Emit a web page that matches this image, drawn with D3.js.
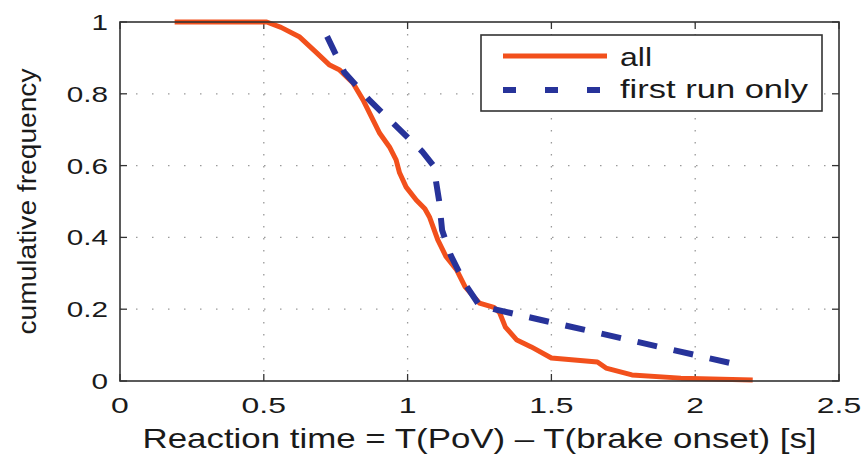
<!DOCTYPE html>
<html>
<head>
<meta charset="utf-8">
<script src="https://cdn.jsdelivr.net/npm/d3@7"></script>
<style>
  body { margin: 0; background: #fff; }
  text { font-family: "Liberation Sans", Arial, sans-serif; fill: #1a1a1a; }
</style>
</head>
<body>
<script>
// values
const allTime = [0.19, 0.51, 0.56, 0.625, 0.684, 0.729, 0.764, 0.81, 0.845, 0.88, 0.903, 0.937, 0.96, 0.972, 0.995, 1.03, 1.06, 1.076, 1.105, 1.134, 1.17, 1.2, 1.25, 1.3, 1.32, 1.34, 1.38, 1.43, 1.5, 1.66, 1.69, 1.78, 1.95, 2.2]
const allFreq = [1.0, 1.0, 0.985, 0.958, 0.914, 0.88, 0.866, 0.83, 0.783, 0.727, 0.69, 0.652, 0.616, 0.58, 0.54, 0.504, 0.48, 0.457, 0.393, 0.346, 0.31, 0.262, 0.217, 0.205, 0.19, 0.15, 0.114, 0.095, 0.064, 0.053, 0.036, 0.017, 0.008, 0.003]
const firstTime = [0.72, 0.78, 0.87, 0.96, 1.05, 1.09, 1.11, 1.12, 1.15, 1.2, 1.25, 1.3, 2.15]
const firstFreq = [0.96, 0.86, 0.78, 0.71, 0.64, 0.6, 0.5, 0.42, 0.35, 0.27, 0.21, 0.2, 0.045]
const xTicks = [0, 0.5, 1, 1.5, 2, 2.5]
const yTicks = [0, 0.2, 0.4, 0.6, 0.8, 1]
const seriesNames = ['all', 'first run only']

const width = 863
const height = 454
const margin = { left: 120, right: 24, top: 22, bottom: 73 }

const svg = d3.select('body').append('svg')
    .attr('width', width)
    .attr('height', height)

const x = d3.scaleLinear().domain([0, 2.5]).range([margin.left, width - margin.right])
const y = d3.scaleLinear().domain([0, 1]).range([height - margin.bottom, margin.top])

// picture is stretched sideways, so widen glyphs
function stretch(sel, k) {
    sel.each(function () {
        const w = this.getComputedTextLength()
        d3.select(this).attr('textLength', w * k).attr('lengthAdjust', 'spacingAndGlyphs')
    })
}

// grid
const grid = svg.append('g').attr('stroke', '#9a9a9a').attr('stroke-width', 1.3)
grid.selectAll('.gx')
    .data(xTicks.slice(1, -1))
    .enter()
    .append('line')
    .attr('x1', (d) => x(d)).attr('x2', (d) => x(d))
    .attr('y1', y(1)).attr('y2', y(0))
    .attr('stroke-dasharray', '1.5,10.5')
grid.selectAll('.gy')
    .data(yTicks.slice(1, -1))
    .enter()
    .append('line')
    .attr('x1', x(0)).attr('x2', x(2.5))
    .attr('y1', (d) => y(d)).attr('y2', (d) => y(d))
    .attr('stroke-dasharray', '1.5,14.5')

// ticks on all four sides, pointing inward
const tk = svg.append('g').attr('stroke', '#333').attr('stroke-width', 1.3)
xTicks.forEach((d) => {
    tk.append('line').attr('x1', x(d)).attr('x2', x(d)).attr('y1', y(0)).attr('y2', y(0) - 7)
    tk.append('line').attr('x1', x(d)).attr('x2', x(d)).attr('y1', y(1)).attr('y2', y(1) + 7)
})
yTicks.forEach((d) => {
    tk.append('line').attr('x1', x(0)).attr('x2', x(0) + 7).attr('y1', y(d)).attr('y2', y(d))
    tk.append('line').attr('x1', x(2.5)).attr('x2', x(2.5) - 7).attr('y1', y(d)).attr('y2', y(d))
})

// tick labels
const xl = svg.append('g').selectAll('text')
    .data(xTicks)
    .enter()
    .append('text')
    .attr('x', (d) => x(d))
    .attr('y', y(0) + 32)
    .attr('text-anchor', 'middle')
    .attr('font-size', 22)
    .text((d) => d3.format('')(d))
stretch(xl, 1.45)

const yl = svg.append('g').selectAll('text')
    .data(yTicks)
    .enter()
    .append('text')
    .attr('x', x(0) - 12)
    .attr('y', (d) => y(d) + 8)
    .attr('text-anchor', 'end')
    .attr('font-size', 22)
    .text((d) => d3.format('')(d))
stretch(yl, 1.35)

// axis titles
svg.append('text')
    .attr('x', (x(0) + x(2.5)) / 2)
    .attr('y', 448)
    .attr('text-anchor', 'middle')
    .attr('font-size', 28)
    .attr('textLength', 674)
    .attr('lengthAdjust', 'spacingAndGlyphs')
    .text('Reaction time = T(PoV) \u2013 T(brake onset) [s]')

svg.append('text')
    .attr('transform', 'translate(36,' + (y(0) + y(1)) / 2 + ') rotate(-90)')
    .attr('text-anchor', 'middle')
    .attr('font-size', 26)
    .attr('textLength', 266)
    .attr('lengthAdjust', 'spacingAndGlyphs')
    .text('cumulative frequency')

// curves
const line = d3.line()
    .x((d) => x(d[0]))
    .y((d) => y(d[1]))

svg.append('path')
    .datum(allTime.map((t, i) => [t, allFreq[i]]))
    .attr('d', line)
    .attr('fill', 'none')
    .attr('stroke', '#f2501c')
    .attr('stroke-width', 5)
    .attr('stroke-linejoin', 'round')

svg.append('path')
    .datum(firstTime.map((t, i) => [t, firstFreq[i]]))
    .attr('d', line)
    .attr('fill', 'none')
    .attr('stroke', '#27339a')
    .attr('stroke-width', 6)
    .attr('stroke-dasharray', '20,17')

// box
svg.append('rect')
    .attr('x', x(0)).attr('y', y(1))
    .attr('width', x(2.5) - x(0)).attr('height', y(0) - y(1))
    .attr('fill', 'none')
    .attr('stroke', '#333')
    .attr('stroke-width', 1.6)

// legend
const lg = svg.append('g')
lg.append('rect')
    .attr('x', 481).attr('y', 35)
    .attr('width', 341).attr('height', 76)
    .attr('fill', '#fff')
    .attr('stroke', '#333')
    .attr('stroke-width', 1.6)
lg.append('line')
    .attr('x1', 503).attr('x2', 607).attr('y1', 56).attr('y2', 56)
    .attr('stroke', '#f2501c').attr('stroke-width', 5)
lg.append('line')
    .attr('x1', 503).attr('x2', 607).attr('y1', 90).attr('y2', 90)
    .attr('stroke', '#27339a').attr('stroke-width', 6)
    .attr('stroke-dasharray', '13,29')
lg.append('text')
    .attr('x', 620).attr('y', 66)
    .attr('font-size', 25)
    .attr('textLength', 32)
    .attr('lengthAdjust', 'spacingAndGlyphs')
    .text(seriesNames[0])
lg.append('text')
    .attr('x', 620).attr('y', 98)
    .attr('font-size', 25)
    .attr('textLength', 188)
    .attr('lengthAdjust', 'spacingAndGlyphs')
    .text(seriesNames[1])
</script>
</body>
</html>
